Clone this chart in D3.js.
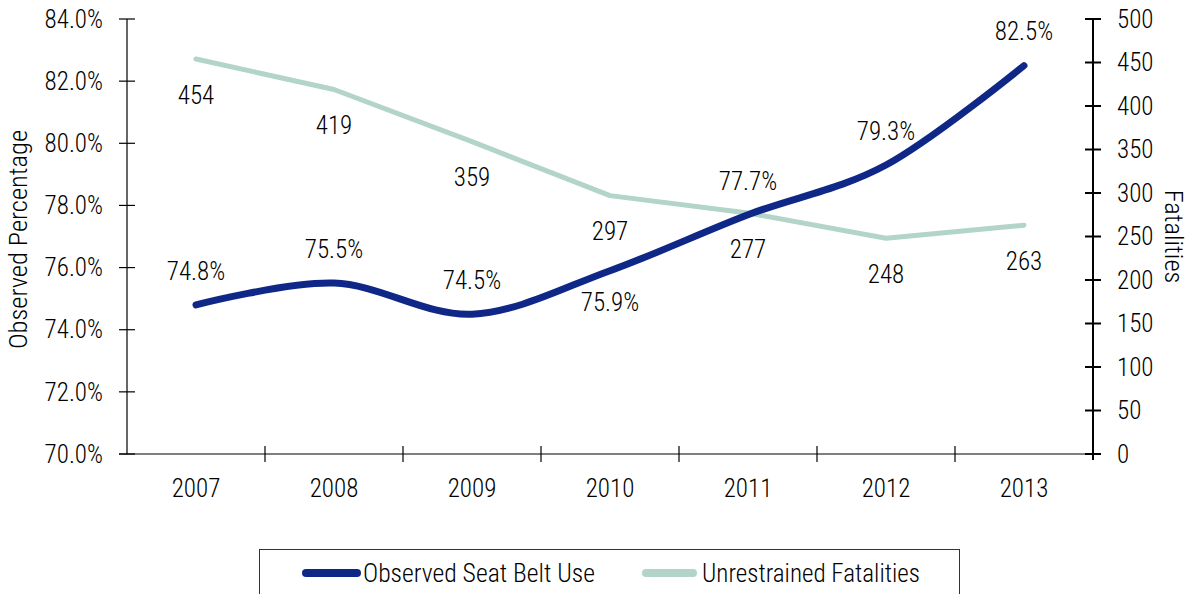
<!DOCTYPE html>
<html>
<head>
<meta charset="utf-8">
<script src="https://cdn.jsdelivr.net/npm/d3@7"></script>
<style>
  body { margin: 0; background: #fff; }
  svg text { font-family: "Liberation Sans Narrow", "Arial Narrow", "Roboto Condensed", "Liberation Sans", sans-serif; font-stretch: condensed; font-weight: 350; fill: #000; }
</style>
</head>
<body>
<div id="plot"></div>
<script>
// chart values
const years = ["2007", "2008", "2009", "2010", "2011", "2012", "2013"];
const beltUse = [74.8, 75.5, 74.5, 75.9, 77.7, 79.3, 82.5];
const fatalities = [454, 419, 359, 297, 277, 248, 263];
const pctTicks = [70, 72, 74, 76, 78, 80, 82, 84];
const fatalTicks = [0, 50, 100, 150, 200, 250, 300, 350, 400, 450, 500];
// which seat belt labels sit under the line
const beltLabelBelow = [false, false, false, true, false, false, false];

const width = 1193, height = 594;
const plotLeft = 127, plotRight = 1093, plotTop = 19, plotBottom = 454;
const navy = "#0f2888", green = "#b3d4c8";
const fs = "25px";

const svg = d3.select("#plot").append("svg")
  .attr("width", width)
  .attr("height", height);

const x = d3.scaleBand().domain(years).range([plotLeft, plotRight]);
const yPct = d3.scaleLinear().domain([70, 84]).range([plotBottom, plotTop]);
const yFat = d3.scaleLinear().domain([0, 500]).range([plotBottom, plotTop]);
const cx = d => x(d) + x.bandwidth() / 2;

// left axis
const gl = svg.append("g").attr("transform", `translate(${plotLeft},0)`);
gl.append("line").attr("y1", plotTop).attr("y2", plotBottom).attr("stroke", "#000").attr("stroke-width", 1.2);
gl.selectAll("line.t").data(pctTicks).join("line")
  .attr("class", "t")
  .attr("x1", -8).attr("x2", 8)
  .attr("y1", d => yPct(d)).attr("y2", d => yPct(d))
  .attr("stroke", "#000").attr("stroke-width", 1.2);
gl.selectAll("text").data(pctTicks).join("text")
  .attr("x", -24).attr("y", d => yPct(d))
  .attr("dy", "0.35em")
  .attr("text-anchor", "end")
  .style("font-size", fs)
  .text(d => d.toFixed(1) + "%");

// right axis
const gr = svg.append("g").attr("transform", `translate(${plotRight},0)`);
gr.append("line").attr("y1", plotTop).attr("y2", plotBottom + 6).attr("stroke", "#000").attr("stroke-width", 2);
gr.selectAll("line.t").data(fatalTicks).join("line")
  .attr("class", "t")
  .attr("x1", -8).attr("x2", 8)
  .attr("y1", d => yFat(d)).attr("y2", d => yFat(d))
  .attr("stroke", "#000").attr("stroke-width", 2);
gr.selectAll("text").data(fatalTicks).join("text")
  .attr("x", 24).attr("y", d => yFat(d))
  .attr("dy", "0.35em")
  .style("font-size", fs)
  .text(d => d);

// x axis
svg.append("line")
  .attr("x1", plotLeft - 8).attr("x2", plotRight)
  .attr("y1", plotBottom).attr("y2", plotBottom)
  .attr("stroke", "#000").attr("stroke-width", 1.2);
svg.selectAll("line.xt").data(years.slice(1)).join("line")
  .attr("class", "xt")
  .attr("x1", d => x(d)).attr("x2", d => x(d))
  .attr("y1", plotBottom - 8).attr("y2", plotBottom + 8)
  .attr("stroke", "#000").attr("stroke-width", 1.2);
svg.selectAll("text.xl").data(years).join("text")
  .attr("class", "xl")
  .attr("x", d => cx(d)).attr("y", plotBottom + 34)
  .attr("dy", "0.35em")
  .attr("text-anchor", "middle")
  .style("font-size", fs)
  .text(d => d);

// axis titles
svg.append("text")
  .attr("transform", `translate(18,${(plotTop + plotBottom) / 2 + 3}) rotate(-90)`)
  .attr("text-anchor", "middle").attr("dy", "0.35em")
  .style("font-size", "26.5px")
  .text("Observed Percentage");
svg.append("text")
  .attr("transform", `translate(1174,${(plotTop + plotBottom) / 2}) rotate(90)`)
  .attr("text-anchor", "middle").attr("dy", "0.35em")
  .style("font-size", "26.5px")
  .text("Fatalities");

// lines
const fatLine = d3.line()
  .x((d, i) => cx(years[i]))
  .y(d => yFat(d));
svg.append("path")
  .datum(fatalities)
  .attr("d", fatLine)
  .attr("fill", "none")
  .attr("stroke", green)
  .attr("stroke-width", 5)
  .attr("stroke-linecap", "round")
  .attr("stroke-linejoin", "round");

const beltLine = d3.line()
  .x((d, i) => cx(years[i]))
  .y(d => yPct(d))
  .curve(d3.curveCardinal.tension(0));
svg.append("path")
  .datum(beltUse)
  .attr("d", beltLine)
  .attr("fill", "none")
  .attr("stroke", navy)
  .attr("stroke-width", 7)
  .attr("stroke-linecap", "round");

// data labels
svg.selectAll("text.fl").data(fatalities).join("text")
  .attr("class", "fl")
  .attr("x", (d, i) => cx(years[i]))
  .attr("y", d => yFat(d) + 36)
  .attr("dy", "0.35em")
  .attr("text-anchor", "middle")
  .style("font-size", fs)
  .text(d => d);
svg.selectAll("text.bl").data(beltUse).join("text")
  .attr("class", "bl")
  .attr("x", (d, i) => cx(years[i]))
  .attr("y", (d, i) => yPct(d) + (beltLabelBelow[i] ? 32 : -34))
  .attr("dy", "0.35em")
  .attr("text-anchor", "middle")
  .style("font-size", fs)
  .text(d => d.toFixed(1) + "%");

// legend
const lg = svg.append("g");
lg.append("rect")
  .attr("x", 259.5).attr("y", 549.5)
  .attr("width", 700).attr("height", 60)
  .attr("fill", "#fff").attr("stroke", "#333").attr("stroke-width", 1);
const legendItems = [
  { name: "Observed Seat Belt Use", color: navy, x0: 306, x1: 357, tx: 363, w: 232 },
  { name: "Unrestrained Fatalities", color: green, x0: 646, x1: 693, tx: 702, w: 218 }
];
legendItems.forEach(function(it) {
  lg.append("line")
    .attr("x1", it.x0).attr("x2", it.x1)
    .attr("y1", 573).attr("y2", 573)
    .attr("stroke", it.color).attr("stroke-width", 8)
    .attr("stroke-linecap", "round");
  lg.append("text")
    .attr("x", it.tx).attr("y", 573)
    .attr("dy", "0.35em")
    .attr("textLength", it.w)
    .attr("lengthAdjust", "spacingAndGlyphs")
    .style("font-size", "25px")
    .text(it.name);
});
</script>
</body>
</html>
